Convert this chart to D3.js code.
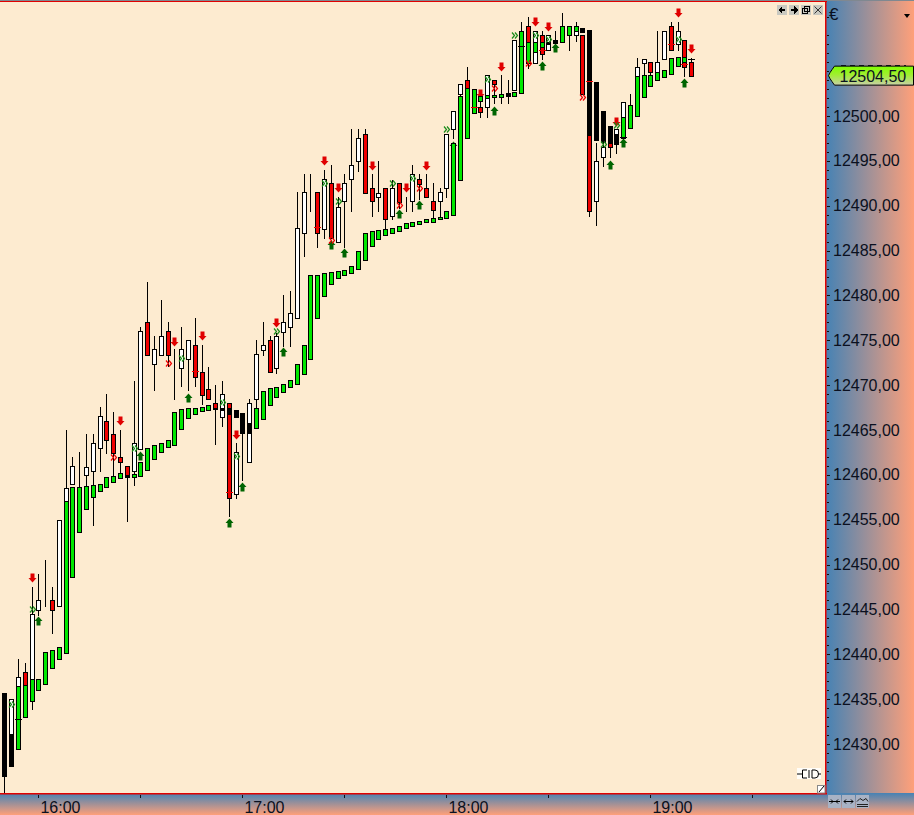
<!DOCTYPE html>
<html><head><meta charset="utf-8">
<style>html,body{margin:0;padding:0;background:#FDEBD0;overflow:hidden}svg{display:block}text{font-family:"Liberation Sans",Arial,sans-serif}</style>
<script src="https://cdn.jsdelivr.net/npm/d3@7"></script></head><body>
<script>
// candle data: open, close, high, low per 2-minute bar (first bar 15:50)
const opens=[12435,12429,12436,12437.98,12437,12444.97,12447,12446,12445.41,12457.1,12458.94,12460.5,12459.94,12460.46,12462.95,12465.96,12464.5,12461.95,12460.95,12460.46,12462.91,12477,12472.39,12473.39,12476,12472.4,12471.94,12472.95,12474.43,12471.42,12469.53,12467.97,12466.48,12467.97,12457.9,12461.95,12461.46,12468.49,12473.95,12475,12471.94,12475.95,12476.44,12477.44,12487,12490.93,12491.49,12487.44,12492.49,12485.99,12490.48,12492.93,12494.94,12497.95,12491.93,12490.93,12491.93,12488.9,12492.49,12489.93,12490.48,12492.93,12491.93,12490.48,12490.48,12491.93,12498.51,12502.5,12503.97,12502,12500.96,12500.96,12503.97,12502.97,12502.4,12502.9,12509,12509.99,12505.94,12508.99,12507.39,12508.3,12509.5,12509.5,12509,12509,12500,12490.49,12495.46,12497,12497.5,12499.9,12502.5,12504.5,12505.94,12505.98,12504.87,12506.39,12509.99,12507.99,12508.43,12505.98];
const closes=[12427,12434.97,12437.42,12436.53,12444.44,12446,12447,12444.97,12454.92,12458.49,12460.95,12460.5,12460.9,12463.5,12466.52,12463.92,12462.47,12461.47,12459.87,12463.5,12476,12473.4,12474,12475.43,12473.39,12472.4,12474,12475,12470.94,12468.93,12468.49,12467.4,12468.97,12457.45,12462.5,12461.95,12467.97,12473.43,12474.43,12471.42,12475.43,12476.99,12478,12487.47,12491.49,12490.93,12487,12492.93,12486.43,12489.9,12492.49,12494.5,12497.5,12491.45,12490.48,12491.45,12488.48,12491.93,12490.45,12489.93,12493.5,12492.45,12490.93,12489.48,12491.49,12497.95,12500.52,12503.53,12503.08,12501,12500.48,12504.53,12503.53,12502.97,12502.4,12508.43,12503,12506,12509.44,12506.95,12508.99,12508.2,12509,12509.2,12509.99,12502.5,12489.44,12494.94,12496.5,12496.5,12498.5,12501.52,12502.5,12505.42,12506.39,12504.94,12505.98,12509.44,12507.39,12509.44,12505.42,12504.5];
const highs=[12435.64,12434.97,12439.47,12439.02,12447.53,12449,12450.5,12447.5,12454.92,12465,12461.95,12462.5,12464.5,12464.5,12467.52,12469,12467,12465,12460.95,12470.45,12476.5,12481.5,12475.47,12479.5,12477,12474,12476.5,12475,12477.48,12474.47,12472,12470,12470.46,12467.97,12463.54,12464.6,12468.5,12475,12477,12475.47,12475.8,12480,12480.45,12491.5,12493.5,12493.5,12491.49,12494,12494.53,12490.93,12493.5,12498.5,12498.5,12498.5,12493.5,12494.94,12491.93,12492.9,12492.49,12490.93,12494.5,12493.5,12493.5,12492.49,12491.93,12497.95,12500.52,12503.53,12505.46,12502.9,12502.5,12504.53,12503.97,12504.53,12504,12508.43,12510.44,12511,12509.44,12509.44,12508.99,12509.44,12511.44,12509.99,12510.44,12509,12500,12497,12497,12497,12498.5,12501.52,12502.5,12506.43,12506.39,12505.98,12509.44,12509.44,12510.44,12510.44,12508.43,12506.43];
const lows=[12424.5,12429,12436,12436,12433.93,12444.37,12445.4,12442.4,12445.41,12457.1,12458.94,12458.8,12458.8,12454.4,12460.46,12462.47,12460,12460.2,12454.89,12458.86,12462.91,12473.4,12469.45,12473.39,12472.1,12468.45,12469.93,12469.45,12469.93,12467.9,12468.49,12463.43,12465.44,12455.4,12457.45,12459.4,12461.46,12467.4,12473.35,12471.42,12471.4,12474.35,12474.35,12477.44,12484.4,12489.44,12485.43,12486.43,12486.43,12485.99,12485.43,12489.44,12493.9,12491.45,12488.9,12489.44,12487.36,12488.48,12489.8,12489.44,12489.44,12490.8,12490.93,12488.6,12488.7,12490.93,12497.5,12502.2,12503,12500.3,12499.93,12499.93,12501.48,12501.48,12501.48,12502.9,12502.52,12505.4,12505.94,12506.4,12507.39,12508.1,12508.21,12507.36,12508.4,12502.5,12488.9,12487.88,12494.46,12495.46,12495.9,12497.5,12501.19,12504,12504.53,12504.5,12504,12506.39,12507.39,12507.4,12504.46,12504.5];
// overlay bars: upper value, lower value; the listed bars are black, the others green
const overlayTop=[12435.64,12431.07,12436.42,12436.53,12437.2,12437.3,12440.3,12440.43,12440.77,12457.12,12458.68,12458.68,12458.8,12458.83,12458.94,12459.79,12459.9,12460.16,12459.95,12460.09,12461.39,12462.95,12463.28,12463.5,12463.84,12466.96,12467.3,12467.4,12467.4,12467.52,12467.78,12467.48,12467.4,12467.4,12467.2,12466.85,12465.74,12467.4,12469.4,12469.64,12469.76,12470.16,12470.54,12472.32,12474.44,12482.23,12482.3,12482.45,12482.57,12482.68,12482.79,12483.27,12485,12487,12487.14,12487.25,12487.36,12487.47,12487.7,12488.03,12488.14,12488.25,12488.48,12488.59,12488.7,12489.37,12496.95,12502.19,12503.08,12502.97,12502.19,12502.3,12502.3,12502.41,12502.52,12502.64,12509.44,12508.21,12508.21,12508.21,12508.25,12508.43,12509.99,12509.99,12509.99,12509.77,12509.55,12503.75,12500.52,12498.85,12497.95,12499.92,12501.19,12504.5,12504.53,12504.53,12504.87,12505.09,12506.43,12506.58,12506.54,null];
const overlayBot=[12426.42,12427.57,12429.4,12432.96,12434.75,12435.97,12436.64,12438.42,12439.43,12440.1,12448.64,12453.66,12456.23,12457.49,12458.16,12458.6,12459.16,12459.6,12459.8,12459.79,12459.9,12460.57,12461.8,12462.5,12463.06,12463.36,12465.14,12466.3,12466.8,12467.15,12467.26,12467.3,12467.2,12466.8,12466.48,12464.62,12464.62,12465.18,12466.26,12467.82,12468.72,12469.2,12469.76,12470.09,12471.2,12472.88,12477.5,12479.9,12481.23,12481.9,12482.23,12482.45,12482.9,12483.9,12485.47,12486.25,12486.77,12487,12487.2,12487.47,12487.7,12487.92,12488.14,12488.22,12488.48,12488.59,12489,12492.83,12497.5,12500.3,12501.63,12501.97,12502.08,12502.15,12502.23,12502.26,12502.52,12505.94,12507.1,12507.65,12508.05,12508.1,12508.21,12508.99,12509.44,12509.4,12497.84,12497.29,12497.1,12496.95,12496.9,12497.5,12498.7,12499.96,12502.15,12503.38,12503.97,12504.38,12504.72,12505.6,12506.06,null];
const blackOverlayBars=[0,1,18,31,32,33,34,35,36,74,80,81,85,86,87,88,89,90];
// signals: [bar, price]
const sellArrows=[[4,12448.46],[17,12466],[25,12474.84],[29,12475.43],[34,12464.44],[40,12476.88],[47,12494.94],[49,12491.93],[54,12494.38],[59,12491.93],[62,12494.38],[70,12502.45],[73,12505.42],[78,12510.44],[80,12509.88],[90,12499.37],[99,12511.44],[101,12507.43]];
const buyArrows=[[5,12443.7],[20,12462.13],[27,12468.6],[33,12454.59],[35,12458.6],[41,12473.65],[48,12485.61],[50,12484.7],[58,12489.1],[61,12490.1],[66,12496.7],[72,12500.59],[79,12505.61],[81,12507.62],[89,12494.57],[91,12497],[100,12503.64]];
const greenChevrons=[[1,12434.5],[4,12445],[19,12463],[26,12473],[32,12468.1],[34,12462.1],[40,12476],[47,12492.49],[49,12490.52],[57,12492.49],[60,12493.05],[65,12498.5],[71,12504.09],[75,12509],[78,12509],[80,12508.55],[88,12496.88],[90,12499],[99,12508.55]];
const redChevrons=[[16,12462],[24,12472.5],[48,12486.17],[58,12490.07],[61,12492],[72,12503.08],[77,12505.87],[85,12502.08]];
const redDashes=[[28,12471.57],[33,12458.1],[46,12487.6],[69,12501],[79,12507.4],[86,12503.9],[98,12508],[100,12505.8]];
const blackDashes=[[2,12432.74],[76,12507.76],[91,12497.7],[101,12506.3]];
// axis
const barTicks=[5,20,35,50,65,80,95,110];
const timeLabels=["16:00","","17:00","","18:00","","19:00",""];
const priceTicks=[12430,12435,12440,12445,12450,12455,12460,12465,12470,12475,12480,12485,12490,12495,12500];
const lastPrice=12504.5;

const W=914,H=815,PR=826,PB=793;
const x=d3.scaleLinear().domain([0,121]).range([4.4,4.4+6.8*121]);
const y=d3.scaleLinear().domain([12430,12500]).range([744,116]);
const px=i=>Math.round(x(i));
const py=v=>Math.round(y(v));
const fmt=d3.formatLocale({decimal:",",thousands:"",grouping:[3],currency:["",""]}).format(".2f");
const svg=d3.select("body").append("svg").attr("width",W).attr("height",H);
const defs=svg.append("defs");
function grad(id,x2,y2,stops){const g=defs.append("linearGradient").attr("id",id).attr("x1",0).attr("y1",0).attr("x2",x2).attr("y2",y2);
 stops.forEach(s=>g.append("stop").attr("offset",s[0]).attr("stop-color",s[1]));}
grad("gr",1,0,[[0,"#4682B4"],[1,"#FFA07A"]]);
grad("gb",0,1,[[0,"#4682B4"],[1,"#FFA07A"]]);
grad("gl",0,1,[[0,"#7FFF00"],[0.45,"#A0EE30"],[1,"#C8D0A8"]]);
defs.append("clipPath").attr("id","plot").append("rect").attr("x",0).attr("y",2).attr("width",PR).attr("height",PB-2);

svg.append("rect").attr("width",W).attr("height",H).attr("fill","#FDEBD0");
svg.append("rect").attr("x",PR).attr("y",0).attr("width",W-PR).attr("height",PB+1).attr("fill","url(#gr)");
svg.append("rect").attr("x",0).attr("y",PB).attr("width",W).attr("height",H-PB).attr("fill","url(#gb)");
svg.append("rect").attr("x",0).attr("y",0).attr("width",W).attr("height",1).attr("fill","#808890");
svg.append("rect").attr("x",0).attr("y",1).attr("width",PR+1).attr("height",1).attr("fill","#E00000");

const bars=d3.range(opens.length).map(i=>({i,o:opens[i],c:closes[i],h:highs[i],l:lows[i],t:overlayTop[i],b:overlayBot[i],k:blackOverlayBars.includes(i)}));
const plot=svg.append("g").attr("clip-path","url(#plot)").attr("shape-rendering","crispEdges");
plot.selectAll("line.wick").data(bars).join("line").attr("class","wick")
 .attr("x1",d=>px(d.i)+.5).attr("x2",d=>px(d.i)+.5).attr("y1",d=>py(d.h)).attr("y2",d=>py(d.l)+1)
 .attr("stroke","#000");
plot.selectAll("rect.body").data(bars).join("rect").attr("class","body")
 .attr("x",d=>px(d.i)-1.5).attr("width",4)
 .attr("y",d=>py(Math.max(d.o,d.c))+.5).attr("height",d=>Math.max(0,py(Math.min(d.o,d.c))-py(Math.max(d.o,d.c))))
 .attr("fill",d=>d.c>=d.o?"#FFFFFF":"#F00000").attr("stroke","#000");

function arrowPts(i,v,s){const c=px(i)+.5,m=py(v);
 return [[c-2,m-4.5*s],[c+2,m-4.5*s],[c+2,m],[c+4,m],[c,m+4.5*s],[c-4,m],[c-2,m]].map(p=>p.join(",")).join(" ");}
plot.selectAll("polygon.sell").data(sellArrows).join("polygon").attr("class","sell")
 .attr("points",d=>arrowPts(d[0],d[1],1)).attr("fill","#E00000").attr("shape-rendering","auto");
plot.selectAll("polygon.buy").data(buyArrows).join("polygon").attr("class","buy")
 .attr("points",d=>arrowPts(d[0],d[1],-1)).attr("fill","#006400").attr("shape-rendering","auto");

plot.selectAll("rect.over").data(bars.filter(d=>d.t!==null)).join("rect").attr("class","over")
 .attr("x",d=>px(d.i)-1.5).attr("width",4)
 .attr("y",d=>py(d.t)+.5).attr("height",d=>Math.max(1,py(d.b)-py(d.t)))
 .attr("fill",d=>d.k?"#000":"#00E800").attr("stroke","#000");

function chevron(sel,data,color,cls){
 sel.selectAll("path."+cls).data(data).join("path").attr("class",cls)
  .attr("d",d=>{const c=px(d[0]),m=py(d[1])+.5;const p=d3.path();
    [-2,1].forEach(o=>{p.moveTo(c+o,m-3);p.lineTo(c+o+2.5,m);p.lineTo(c+o,m+3);});return p.toString();})
  .attr("fill","none").attr("stroke",color).attr("stroke-width",1.2).attr("shape-rendering","auto");
}
chevron(plot,greenChevrons,"#1A8C1A","cg");
chevron(plot,redChevrons,"#F00000","cr");
function dashes(data,color,cls){plot.selectAll("line."+cls).data(data).join("line").attr("class",cls)
 .attr("x1",d=>px(d[0])-3).attr("x2",d=>px(d[0])+4).attr("y1",d=>py(d[1])+.5).attr("y2",d=>py(d[1])+.5).attr("stroke",color);}
dashes(redDashes,"#F00000","dr");
dashes(blackDashes,"#000","dk");

// price axis
const axR=svg.append("g").attr("transform",`translate(${PR+1},0)`)
 .call(d3.axisRight(y).tickValues(priceTicks).tickFormat(fmt).tickSize(3).tickPadding(4));
axR.select(".domain").remove();
axR.selectAll("text").attr("fill","#0A1020").style("font-size","16px").attr("x",6);
axR.selectAll("line").attr("stroke","#101010").attr("shape-rendering","crispEdges");
svg.append("g").selectAll("line").data(d3.range(12425,12512).filter(v=>v%5!==0||v===12505)).join("line")
 .attr("x1",PR+1).attr("x2",PR+3).attr("y1",d=>py(d)+.5).attr("y2",d=>py(d)+.5).attr("stroke","#101010").attr("shape-rendering","crispEdges");
svg.append("rect").attr("x",PR-1).attr("y",1).attr("width",1.5).attr("height",PB).attr("fill","#E00000");

// time axis
const axB=svg.append("g").attr("transform",`translate(0,${PB+1})`)
 .call(d3.axisBottom(x).tickValues(barTicks).tickFormat((d,i)=>timeLabels[i]).tickSize(4).tickPadding(0));
axB.select(".domain").remove();
axB.selectAll("line").attr("stroke","#101018").attr("shape-rendering","crispEdges").attr("y1",1).attr("y2",4);
axB.selectAll("text").attr("fill","#0A1020").style("font-size","16px").attr("text-anchor","start").attr("x",1.5).attr("y",19).attr("dy",null);
svg.append("rect").attr("x",0).attr("y",PB).attr("width",PR+1).attr("height",1.5).attr("fill","#E00000");

// currency, dropdown
svg.append("text").attr("x",829).attr("y",20).attr("fill","#0A1020").style("font-size","17px").text("€");
svg.append("path").attr("d","M904,14h6l-3,4z").attr("fill","#000");

// last price tag, with the tops of the hidden tick label peeking above it
const ly=y(lastPrice);
svg.append("line").attr("x1",841).attr("x2",906).attr("y1",65.5).attr("y2",65.5).attr("stroke","#101828")
 .attr("stroke-dasharray","5,4").attr("shape-rendering","crispEdges");
const tag=svg.append("g");
tag.append("path").attr("d",`M834.5,${ly-9.5}H913.5V${ly+9.5}H834.5L832,${ly+6}L830,${ly+3}L828.5,${ly}L830,${ly-3}L832,${ly-6}Z`)
 .attr("fill","url(#gl)").attr("stroke","#000").attr("stroke-width",1);
tag.append("text").attr("x",839.5).attr("y",ly+6).attr("fill","#0A1020").style("font-size","16px").text(fmt(lastPrice));

// window buttons
const btn=svg.append("g").attr("shape-rendering","crispEdges");
[777,789,801,813].forEach((bx,k)=>{
 btn.append("rect").attr("x",bx).attr("y",5).attr("width",10).attr("height",10).attr("fill","#C8C8C0");
 const cx=bx+5,cy=10;
 if(k===0)btn.append("path").attr("d",`M${cx-4},${cy}l4,-4v3h3v2h-3v3z`).attr("fill","#000");
 if(k===1)btn.append("path").attr("d",`M${cx+4},${cy}l-4,-4v3h-3v2h3v3z`).attr("fill","#000");
 if(k===2)btn.append("path").attr("d",`M${cx-1.5},${cy-3.5}h5v5h-5zM${cx-3.5},${cy-1.5}h5v5h-5z`).attr("fill","none").attr("stroke","#000");
 if(k===3)btn.append("path").attr("d",`M${cx-3.5},${cy-3.5}l7,7M${cx+3.5},${cy-3.5}l-7,7`).attr("stroke","#333").attr("shape-rendering","auto");
});

// plug icon and resize handle
const ic=svg.append("g");
ic.append("rect").attr("x",797).attr("y",768).attr("width",24).attr("height",11).attr("fill","#FFFDF8");
ic.append("path").attr("d","M797,774H802M807,770H802.5V778H807M809,770V778M812,770V778H815Q818.5,778 818.5,774Q818.5,770 815,770H812M818.5,774H821")
 .attr("fill","none").attr("stroke","#000").attr("stroke-width",1);
ic.append("rect").attr("x",817.5).attr("y",785.5).attr("width",7.5).attr("height",7.5).attr("fill","#FFF").attr("stroke","#888");
ic.append("path").attr("d","M819,792L824,786").attr("stroke","#000");

// bottom-right buttons
const bb=svg.append("g");
[828,842,856].forEach((bx,k)=>{
 bb.append("rect").attr("x",bx).attr("y",795).attr("width",13).attr("height",13).attr("fill","#A8B2C4");
 const cy=801.5;
 if(k===0)bb.append("path").attr("d",`M${bx+1},${cy}H${bx+12}M${bx+3},${cy-2}l2,2l-2,2M${bx+10},${cy-2}l-2,2l2,2`).attr("fill","none").attr("stroke","#000");
 if(k===1)bb.append("path").attr("d",`M${bx+2},${cy}H${bx+11}M${bx+4},${cy-2}l-2,2l2,2M${bx+9},${cy-2}l2,2l-2,2`).attr("fill","none").attr("stroke","#000");
 if(k===2)bb.append("path").attr("d",`M${bx+1},${cy}l3,-3l3,2l3,-2l2,3M${bx+1},${cy+3}H${bx+12}M${bx+1},${cy+5}H${bx+12}`).attr("fill","none").attr("stroke","#222");
});
</script></body></html>
